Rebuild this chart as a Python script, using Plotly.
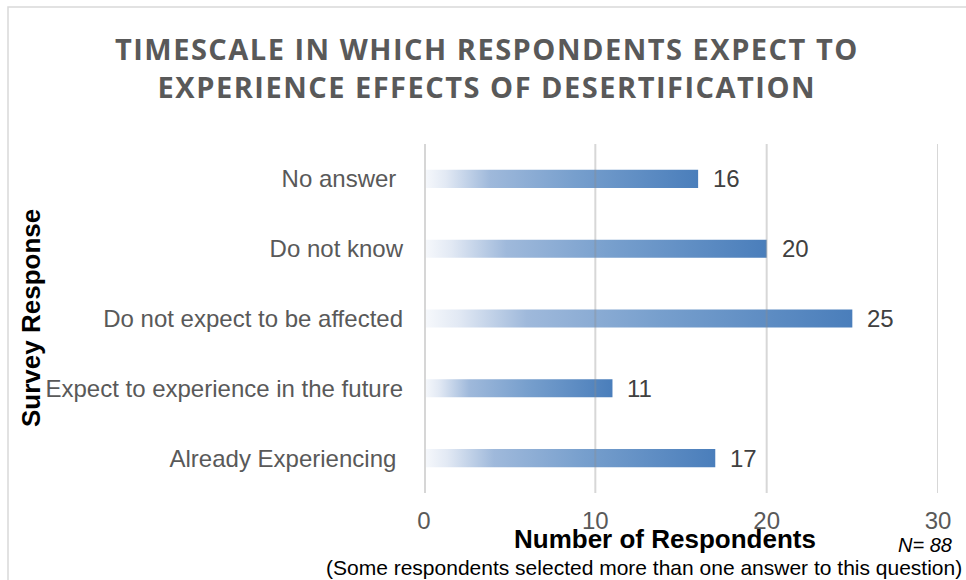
import plotly.graph_objects as go

# Survey data (bottom to top)
categories = [
    "Already Experiencing ",
    "Expect to experience in the future",
    "Do not expect to be affected",
    "Do not know",
    "No answer ",
]
counts = [17, 11, 25, 20, 16]
x_ticks = [0, 10, 20, 30]

# Figure geometry in pixels
W, H = 966, 580
L, R, T, B = 424, 28, 144, 87
pw, ph = W - L - R, H - T - B

FONT = "Liberation Sans, Arial"


def px_x(p):
    return (p - L) / pw


def px_y(p):
    return (H - B - p) / ph


gradient = [
    [0.0, "#f7f9fc"],
    [0.08, "#e2e9f4"],
    [0.24, "#9fb9db"],
    [0.55, "#779fcd"],
    [1.0, "#4a7ebb"],
]

bar_half = 0.13
fig = go.Figure()
for i, (cat, v) in enumerate(zip(categories, counts)):
    fig.add_trace(go.Scatter(
        x=[0, v, v, 0, 0],
        y=[i - bar_half, i - bar_half, i + bar_half, i + bar_half, i - bar_half],
        mode="lines",
        line=dict(width=0),
        fill="toself",
        fillgradient=dict(type="horizontal", colorscale=gradient, start=0, stop=v),
        hoverinfo="skip",
        showlegend=False,
    ))

annotations = []
for i, v in enumerate(counts):
    annotations.append(dict(
        x=v, y=i, xref="x", yref="y", text=str(v), showarrow=False,
        xanchor="left", yanchor="middle", xshift=13,
        font=dict(family=FONT, size=24, color="#404040"),
    ))

annotations += [
    dict(x=px_x(665), y=px_y(539), xref="paper", yref="paper",
         text="<b>Number of Respondents</b>", showarrow=False,
         xanchor="center", yanchor="middle",
         font=dict(family=FONT, size=26, color="#000000")),
    dict(x=px_x(31), y=px_y(318), xref="paper", yref="paper",
         text="<b>Survey Response</b>", showarrow=False, textangle=-90,
         xanchor="center", yanchor="middle",
         font=dict(family=FONT, size=26, color="#000000")),
    dict(x=px_x(954), y=px_y(545), xref="paper", yref="paper",
         text="<i>N= 88</i>", showarrow=False,
         xanchor="right", yanchor="middle",
         font=dict(family=FONT, size=20, color="#000000")),
    dict(x=px_x(964), y=px_y(567), xref="paper", yref="paper",
         text="(Some respondents selected more than one answer to this question)",
         showarrow=False, xanchor="right", yanchor="middle",
         font=dict(family=FONT, size=21, color="#000000")),
]

shapes = [
    # chart frame
    dict(type="rect", xref="paper", yref="paper",
         x0=px_x(8), x1=px_x(W + 20), y0=px_y(H + 20), y1=px_y(7),
         line=dict(color="#d9d9d9", width=1.5), fillcolor="rgba(0,0,0,0)",
         layer="below"),
]
for t in x_ticks:
    shapes.append(dict(
        type="line", xref="x", yref="paper", x0=t, x1=t, y0=0, y1=1,
        line=dict(color="#d6d6d6" if t == 0 else "rgba(140,140,140,0.35)",
                  width=4 if t == 0 else 2),
        layer="above",
    ))

fig.update_layout(
    width=W, height=H,
    margin=dict(l=L, r=R, t=T, b=B),
    paper_bgcolor="#ffffff", plot_bgcolor="#ffffff",
    title=dict(
        text="<span style='letter-spacing:1.5px'>TIMESCALE IN WHICH RESPONDENTS EXPECT TO"
             "<br>EXPERIENCE EFFECTS OF DESERTIFICATION</span>",
        x=0.504, xanchor="center", y=1 - 60 / H, yanchor="middle", yref="container",
        font=dict(family="Open Sans", size=29, color="#595959", weight="bold"),
    ),
    xaxis=dict(
        range=[0, 30], tickvals=x_ticks, showgrid=False, zeroline=False,
        showline=False, ticks="", ticklabelstandoff=11,
        tickfont=dict(family=FONT, size=24, color="#595959"),
        fixedrange=True,
    ),
    yaxis=dict(
        range=[-0.5, len(categories) - 0.5],
        tickvals=list(range(len(categories))), ticktext=categories,
        showgrid=False, zeroline=False, showline=False, ticks="",
        ticklabelstandoff=20,
        tickfont=dict(family=FONT, size=24, color="#595959"),
        fixedrange=True,
    ),
    annotations=annotations,
    shapes=shapes,
)

fig.write_html("out.html")
